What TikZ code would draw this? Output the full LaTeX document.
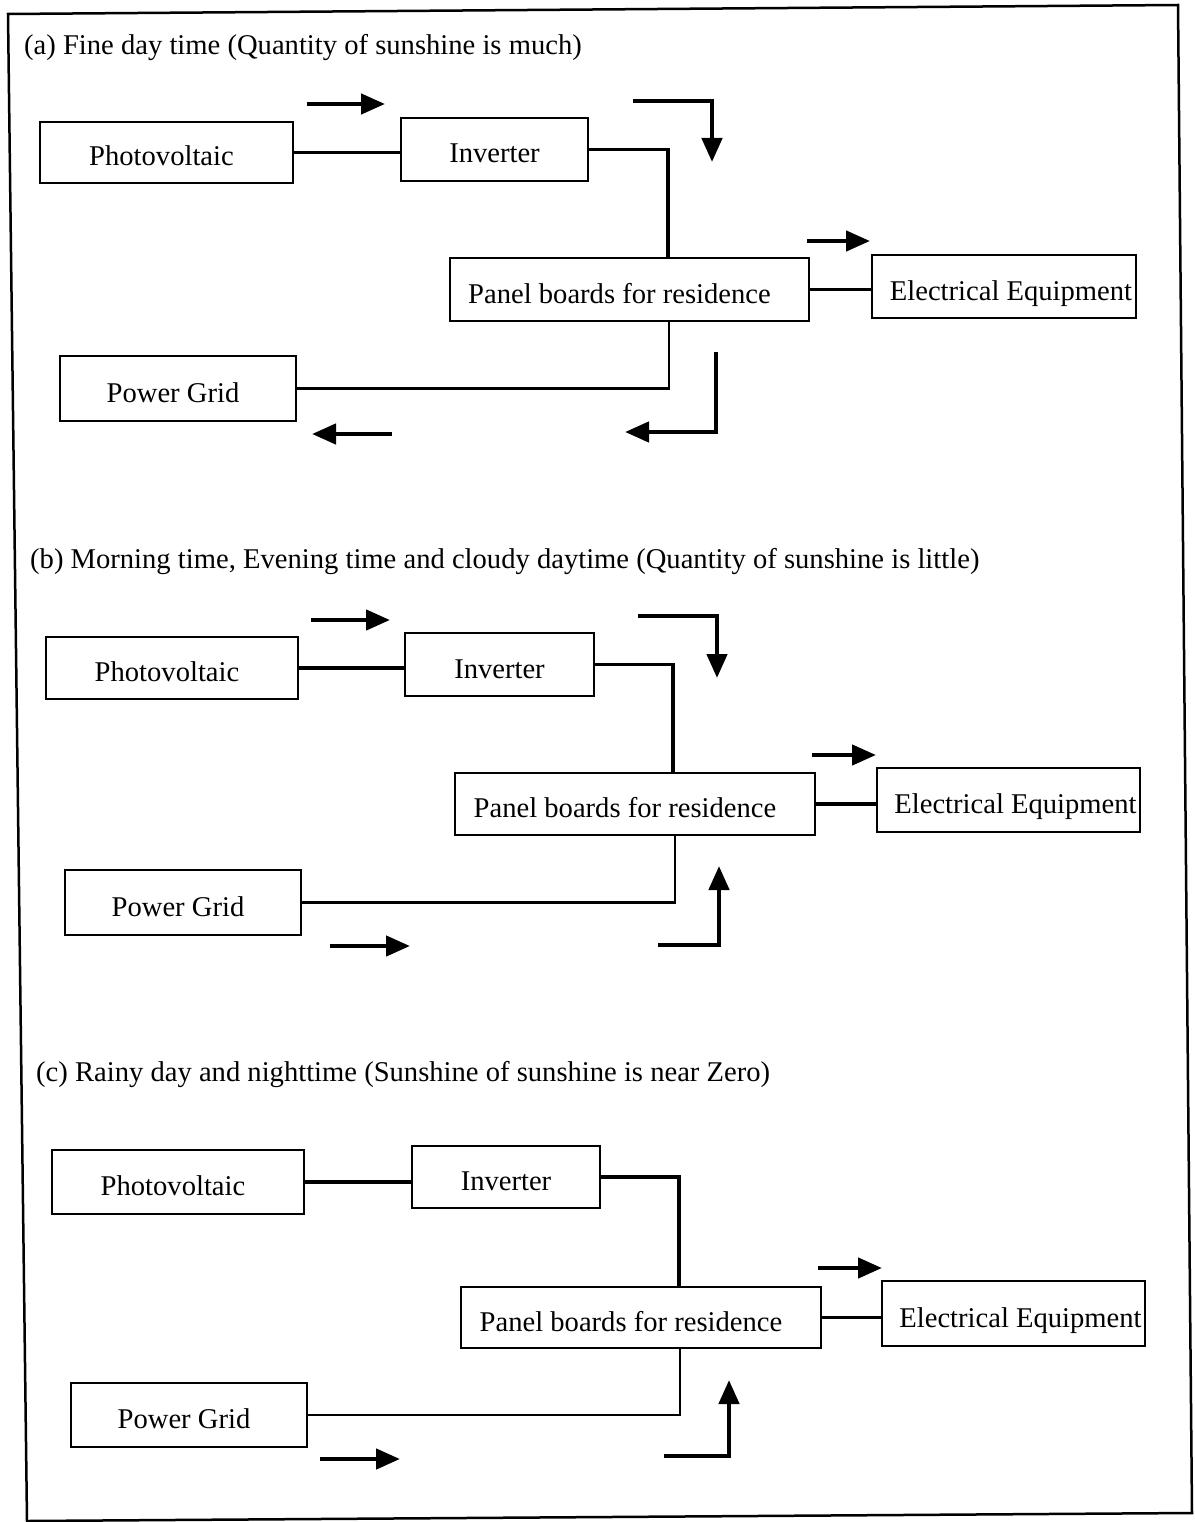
\documentclass[tikz,border=0pt]{standalone}
\usepackage{fontspec}
\setmainfont{Liberation Serif}
\usetikzlibrary{arrows.meta}

\tikzset{
  box/.style={draw, line width=1.6pt, inner sep=0pt,
    text height=27pt, text depth=0pt,
    font=\fontsize{28.6}{34}\selectfont},
  % move the label sideways inside its frame
  padright/.style={execute at end node={\hspace*{#1}}},
  padleft/.style={execute at begin node={\hspace*{#1}}},
  title/.style={anchor=base west, inner sep=0pt,
    font=\fontsize{28.6}{34}\selectfont},
  feed/.style={line width=3.5pt},
  gridline/.style={line width=2.2pt},
  flow/.style={line width=4.5pt,
    -{Triangle[length=24pt,width=20pt]}},
}

\begin{document}
\begin{tikzpicture}[x=1pt, y=-1pt]
  \useasboundingbox (0,0) rectangle (1194,1522);
  % outer frame (slightly skewed)
  \draw[line width=2.5pt] (8,14) -- (1178,5) -- (1192,1513) -- (27,1521) -- cycle;

  % ---------------- (a) ----------------
  \node[title] (ta) at (24,55) {(a) Fine day time (Quantity of sunshine is much)};
  \node[box, padright=10pt, minimum width=253pt, minimum height=61pt] (pva) at (166.5,152.5) {Photovoltaic};
  \node[box, minimum width=187pt, minimum height=63pt] (inva) at (494.5,149.5) {Inverter};
  \node[box, padright=20pt, minimum width=359pt, minimum height=63pt] (pnla) at (629.5,289.5) {Panel boards for residence};
  \node[box, padleft=14pt, minimum width=264pt, minimum height=63pt] (eea) at (1004,286.5) {Electrical Equipment};
  \node[box, padright=10pt, minimum width=236pt, minimum height=65pt] (pga) at (178,388.5) {Power Grid};

  \draw[feed] (pva.east) -- (pva.east -| inva.west);
  \draw[feed] (inva.east) -| ([xshift=38.5pt]pnla.north);
  \draw[feed] (pnla.east) -- (pnla.east -| eea.west);
  \draw[gridline] ([xshift=39.5pt]pnla.south) |- (pga.east);

  \draw[flow] (307,104) -- (385,104);
  \draw[flow] (633,101) -| (712,162);
  \draw[flow] (807,241) -- (870,241);
  \draw[flow] (392,434) -- (312,434);
  \draw[flow] (716,352) |- (625,432);

  % ---------------- (b) ----------------
  \node[title] (tb) at (30,568) {(b) Morning time, Evening time and cloudy daytime (Quantity of sunshine is little)};
  \node[box, padright=10pt, minimum width=252pt, minimum height=62pt] (pvb) at (172,668) {Photovoltaic};
  \node[box, minimum width=189pt, minimum height=63pt] (invb) at (499.5,664.5) {Inverter};
  \node[box, padright=20pt, minimum width=360pt, minimum height=62pt] (pnlb) at (635,804) {Panel boards for residence};
  \node[box, padleft=14pt, minimum width=263pt, minimum height=64pt] (eeb) at (1008.5,800) {Electrical Equipment};
  \node[box, padright=10pt, minimum width=236pt, minimum height=65pt] (pgb) at (183,902.5) {Power Grid};

  \draw[feed] (pvb.east) -- (pvb.east -| invb.west);
  \draw[feed] (invb.east) -| ([xshift=38pt]pnlb.north);
  \draw[feed] (pnlb.east) -- (pnlb.east -| eeb.west);
  \draw[gridline] ([xshift=40pt]pnlb.south) |- (pgb.east);

  \draw[flow] (311,620) -- (390,620);
  \draw[flow] (638,616) -| (717,678);
  \draw[flow] (812,755) -- (876,755);
  \draw[flow] (330,946) -- (410,946);
  \draw[flow] (658,945) -| (719,866);

  % ---------------- (c) ----------------
  \node[title] (tc) at (36,1081) {(c) Rainy day and nighttime (Sunshine of sunshine is near Zero)};
  \node[box, padright=10pt, minimum width=252pt, minimum height=64pt] (pvc) at (178,1182) {Photovoltaic};
  \node[box, minimum width=188pt, minimum height=62pt] (invc) at (506,1177) {Inverter};
  \node[box, padright=20pt, minimum width=360pt, minimum height=61pt] (pnlc) at (641,1317.5) {Panel boards for residence};
  \node[box, padleft=14pt, minimum width=263pt, minimum height=65pt] (eec) at (1013.5,1313.5) {Electrical Equipment};
  \node[box, padright=10pt, minimum width=236pt, minimum height=64pt] (pgc) at (189,1415) {Power Grid};

  \draw[feed] (pvc.east) -- (pvc.east -| invc.west);
  \draw[feed] (invc.east) -| ([xshift=38pt]pnlc.north);
  \draw[feed] (pnlc.east) -- (pnlc.east -| eec.west);
  \draw[gridline] ([xshift=39pt]pnlc.south) |- (pgc.east);

  \draw[flow] (818,1268) -- (882,1268);
  \draw[flow] (320,1459) -- (400,1459);
  \draw[flow] (664,1456) -| (729,1380);
\end{tikzpicture}
\end{document}
